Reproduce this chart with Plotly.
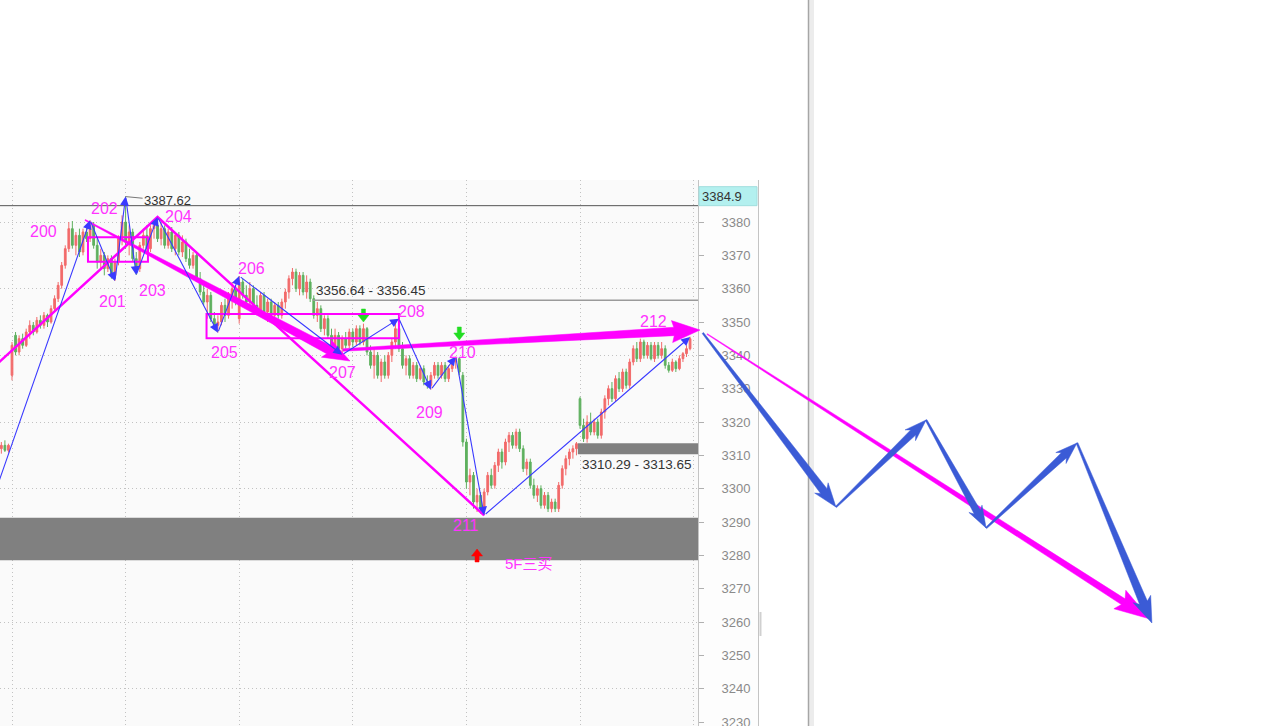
import math
import plotly.graph_objects as go

W, H = 1265, 726

# ---------------- candle data (1 bar per index) ----------------
opens = [
    3312, 3313, 3311.5, 3334, 3346, 3341, 3345, 3343, 3347, 3349,
    3347, 3350.5, 3349, 3352, 3350, 3354, 3357, 3361, 3367, 3372,
    3378, 3373, 3376, 3371, 3377, 3375, 3379, 3373, 3368, 3370,
    3366, 3369, 3364, 3368, 3375, 3380, 3374, 3377, 3369, 3366,
    3373, 3376, 3372, 3378, 3379, 3375, 3378, 3373, 3377, 3372,
    3376, 3371, 3374, 3369, 3367, 3370, 3363, 3359, 3356, 3358,
    3351, 3349, 3350, 3355, 3352, 3358, 3360, 3351, 3362, 3358,
    3356, 3360, 3355, 3353, 3358, 3353, 3356, 3352, 3355, 3352,
    3356, 3359, 3363, 3365, 3360, 3364, 3359, 3362, 3357, 3352,
    3354, 3348, 3351, 3346, 3343, 3346, 3342, 3345, 3343, 3347,
    3344, 3348, 3344, 3348, 3341, 3337, 3340, 3334, 3338, 3334,
    3340, 3344, 3348, 3342, 3337, 3339, 3334, 3337, 3333, 3336,
    3332, 3331, 3334, 3337, 3334, 3337, 3333, 3336, 3338, 3339,
    3334, 3314, 3302, 3304, 3296, 3298, 3294, 3299, 3304, 3301,
    3307, 3311, 3308, 3314, 3316, 3313, 3317, 3312, 3306, 3308,
    3301, 3298, 3300, 3295, 3298, 3294, 3296, 3294, 3301, 3306,
    3309, 3311, 3312, 3327, 3319, 3315, 3320, 3317, 3320, 3316,
    3323, 3327, 3330, 3327, 3333, 3330, 3335, 3331, 3338, 3342,
    3339, 3344, 3340, 3343, 3339, 3343, 3340, 3342, 3337, 3335.5,
    3338, 3336, 3339, 3340.5, 3342,
]
highs = [
    3314, 3314.5, 3313.5, 3344, 3347, 3346, 3346.5, 3348, 3350.5, 3350,
    3351.5, 3352, 3353, 3352.5, 3355, 3358, 3362, 3368, 3373, 3380,
    3380.3, 3377, 3378, 3378, 3379, 3380.5, 3380, 3375, 3372, 3371,
    3370, 3370, 3369, 3376, 3382, 3387.62, 3379, 3378, 3371, 3374,
    3378, 3379, 3379, 3380, 3381.5, 3380, 3379, 3378, 3378.5, 3377,
    3377, 3376, 3375, 3372, 3371, 3371, 3365, 3361, 3360, 3359,
    3353, 3352, 3356, 3357, 3359, 3362, 3361, 3363.8, 3363, 3361,
    3362, 3361, 3358, 3359, 3359, 3357, 3357, 3356, 3356, 3357,
    3360, 3364, 3366.2, 3366, 3365, 3365, 3364, 3363, 3358, 3356,
    3355, 3352, 3352, 3348, 3348, 3347, 3346, 3347, 3348, 3348,
    3349, 3349, 3349.5, 3348.5, 3343, 3342, 3341, 3339, 3340, 3341,
    3345, 3350, 3351, 3344, 3340, 3340, 3338, 3338, 3337, 3337,
    3334, 3335, 3338, 3338, 3338, 3338, 3337, 3339, 3339.6, 3339.5,
    3335, 3315, 3306, 3305, 3300, 3299, 3300, 3305, 3306, 3308,
    3312, 3312, 3315, 3317, 3317, 3318, 3318, 3313, 3309, 3309,
    3303, 3301, 3301, 3299, 3299, 3297, 3297, 3302, 3307, 3310,
    3312, 3313, 3314, 3327.6, 3321, 3322, 3322.8, 3321, 3321, 3324,
    3328, 3331, 3332, 3334, 3335, 3336, 3336, 3339, 3343, 3344,
    3345, 3344.7, 3344, 3344, 3344, 3344, 3344, 3343, 3338, 3339,
    3338.5, 3340, 3341, 3343, 3345.6,
]
lows = [
    3310.5, 3311, 3310.8, 3332.5, 3340, 3340, 3342, 3342.5, 3345, 3346,
    3346.5, 3348, 3348, 3348.5, 3349.5, 3353, 3356, 3360, 3366, 3371,
    3372, 3370, 3369.5, 3370, 3374, 3374, 3372, 3366, 3366, 3364,
    3365, 3363, 3362.3, 3367, 3373, 3372, 3370, 3368, 3364.1, 3365,
    3372, 3371, 3371, 3375, 3374, 3373, 3372, 3372, 3371, 3370,
    3370, 3369.5, 3368, 3366, 3366, 3362, 3358, 3355, 3351, 3350,
    3348, 3346.8, 3349, 3350, 3351, 3354, 3355, 3349.5, 3357, 3355,
    3355, 3354, 3352, 3352, 3352, 3350, 3351, 3350.5, 3351, 3351,
    3354, 3357, 3361, 3359, 3358, 3358, 3357, 3356, 3351, 3350,
    3347, 3346, 3345, 3342, 3342, 3341, 3340.2, 3342, 3342, 3342.5,
    3343, 3343, 3343, 3340, 3336, 3333, 3333, 3332, 3333, 3333,
    3338, 3342, 3341, 3336, 3334, 3333, 3333, 3332, 3332.5, 3331,
    3330, 3329.7, 3333, 3333, 3333, 3332, 3332, 3335, 3336, 3334,
    3312.6, 3300, 3298, 3294, 3293, 3292.5, 3292, 3298, 3300, 3300,
    3305, 3306, 3307, 3311, 3312, 3312, 3311, 3305, 3304, 3300,
    3297, 3296, 3294, 3294, 3293, 3292.9, 3293, 3293, 3300, 3304,
    3307, 3309, 3310, 3318, 3314, 3313.8, 3316, 3316, 3315, 3315,
    3321, 3325, 3326, 3326, 3329, 3329, 3330, 3330, 3337, 3338,
    3338, 3339, 3339, 3338.5, 3338, 3339, 3339, 3336, 3334.8, 3335,
    3335, 3335.5, 3338, 3339.5, 3341.5,
]
closes = [
    3313, 3311.5, 3313, 3343, 3341, 3345, 3343, 3347, 3349, 3347,
    3350.5, 3349, 3352, 3350, 3354, 3357, 3361, 3367, 3372, 3378,
    3373, 3376, 3371, 3377, 3375, 3379, 3373, 3368, 3370, 3366,
    3369, 3364, 3368, 3375, 3380, 3374, 3377, 3369, 3366, 3373,
    3376, 3372, 3378, 3379, 3375, 3378, 3373, 3377, 3372, 3376,
    3371, 3374, 3369, 3367, 3370, 3363, 3359, 3356, 3358, 3351,
    3349, 3350, 3355, 3352, 3358, 3360, 3356, 3362, 3358, 3356,
    3360, 3355, 3353, 3358, 3353, 3356, 3352, 3355, 3352, 3356,
    3359, 3363, 3365, 3360, 3364, 3359, 3362, 3357, 3352, 3354,
    3348, 3351, 3346, 3343, 3346, 3342, 3345, 3343, 3347, 3344,
    3348, 3344, 3348, 3341, 3337, 3340, 3334, 3338, 3334, 3340,
    3344, 3348, 3342, 3337, 3339, 3334, 3337, 3333, 3336, 3332,
    3331, 3334, 3337, 3334, 3337, 3333, 3336, 3338, 3339, 3335,
    3314, 3302, 3304, 3296, 3298, 3294, 3299, 3304, 3301, 3307,
    3311, 3308, 3314, 3316, 3313, 3317, 3312, 3306, 3308, 3301,
    3298, 3300, 3295, 3298, 3294, 3296, 3294, 3301, 3306, 3309,
    3311, 3312, 3313.5, 3319, 3315, 3320, 3317, 3320, 3316, 3323,
    3327, 3330, 3327, 3333, 3330, 3335, 3331, 3338, 3342, 3339,
    3344, 3340, 3343, 3339, 3343, 3340, 3342, 3337, 3335.5, 3338,
    3336, 3339, 3340.5, 3342, 3345,
]
assert len(opens) == len(highs) == len(lows) == len(closes)
bar_idx = list(range(len(opens)))

# price axis tick labels
y_ticks = [3230, 3240, 3250, 3260, 3270, 3280, 3290, 3300, 3310, 3320,
           3330, 3340, 3350, 3360, 3370, 3380]
y_grid = [3240, 3260, 3280, 3300, 3320, 3340, 3360, 3380]

# ---------------- pens (bi) ----------------
pen_names = ["199", "200", "201", "202", "203", "204", "205", "206",
             "207", "208", "209", "210", "211", "212"]
pen_idx = [-5, 25, 32, 35, 38, 44, 61, 67, 96, 112, 121, 128, 136, 194]
pen_price = [3289.0, 3380.5, 3362.3, 3387.62, 3364.1, 3381.5, 3346.8,
             3363.8, 3340.2, 3351.0, 3329.7, 3339.6, 3292.0, 3345.5]

# segment (magenta thin line)
seg_idx = [-40, 44, 136]
seg_price = [3299.5, 3381.5, 3292.0]

# drawn trend arrows (magenta): start idx, start price, end idx, end price
trend_start_idx = [23.6, 96.2, 198.8]
trend_start_price = [3380.6, 3341.6, 3346.4]
trend_end_idx = [98.2, 196.8, 323.6]
trend_end_price = [3338.3, 3347.6, 3260.9]

# projected path (blue arrows)
proj_idx = [197.6, 235.1, 260.5, 277.4, 303.0, 324.1]
proj_price = [3346.7, 3294.5, 3320.6, 3288.2, 3313.7, 3259.7]

# central zones (magenta boxes)
zone_idx0 = [24.4, 57.8]
zone_idx1 = [41.3, 112.0]
zone_low = [3368.1, 3345.1]
zone_high = [3375.4, 3352.4]

# price levels
support_low, support_high = 3278.5, 3291.3
gap_idx0, gap_low, gap_high = 162.4, 3310.29, 3313.65
level_idx0, level_a, level_b = 87.8, 3356.64, 3356.45
last_price = 3384.9
peak_idx, peak_price = 35, 3387.62

# signals (arrow tip positions)
sell_idx = [102, 129]
sell_price = [3350.0, 3344.6]
buy_idx = [134]
buy_price = [3281.9]
buy_text = "5F三买"

# ---------------- layout geometry ----------------
xdom1 = 698 / W
ydom1 = 1 - 180 / H
xr0, xr1 = -0.38, 196.24
yr0, yr1 = 3228.8, 3392.6
kx = W * xdom1 / (xr1 - xr0)
ky = H * ydom1 / (yr1 - yr0)
x2r1 = xr0 + W / kx

RED = "#f26a6a"
GREEN = "#5eb05e"
MAG = "#ff00ff"
MAG_TXT = "#ff33ff"
PEN = "#3a3aff"
PROJ = "#3b5bd6"
BAND = "#808080"
FONT = "Liberation Sans, Arial, Noto Sans CJK SC"

fig = go.Figure()

fig.add_trace(go.Candlestick(
    x=bar_idx, open=opens, high=highs, low=lows, close=closes,
    increasing=dict(line=dict(color=RED, width=1), fillcolor=RED),
    decreasing=dict(line=dict(color=GREEN, width=1), fillcolor=GREEN),
    whiskerwidth=0, hoverinfo="skip", showlegend=False,
    xaxis="x", yaxis="y"))

# invisible trace so the grid axis is drawn
fig.add_trace(go.Scatter(x=[bar_idx[0]], y=[y_grid[0]], mode="markers",
                         marker=dict(opacity=0), hoverinfo="skip",
                         showlegend=False, xaxis="x", yaxis="y3"))

# price bands as filled traces (above grid, below the marks drawn later)
for bx0, blo, bhi in [(xr0 - 5, support_low, support_high), (gap_idx0, gap_low, gap_high)]:
    fig.add_trace(go.Scatter(x=[bx0, xr1 + 5, xr1 + 5, bx0, bx0],
                             y=[blo, blo, bhi, bhi, blo], mode="lines",
                             fill="toself", fillcolor=BAND, line=dict(width=0, color=BAND),
                             hoverinfo="skip", showlegend=False, xaxis="x", yaxis="y"))

# magenta segment line
fig.add_trace(go.Scatter(x=seg_idx, y=seg_price, mode="lines",
                         line=dict(color=MAG, width=2.5),
                         hoverinfo="skip", showlegend=False,
                         xaxis="x", yaxis="y"))


def to_px(x, y):
    return (x - xr0) * kx, (yr1 - y) * ky


def from_px(X, Y):
    return X / kx + xr0, yr1 - Y / ky


def arrow_poly(Sx, Sy, Tx, Ty, w0, w1, head_len, head_hw, barb, color):
    dx, dy = Tx - Sx, Ty - Sy
    L = math.hypot(dx, dy)
    ux, uy = dx / L, dy / L
    nx, ny = -uy, ux
    Bx, By = Tx - ux * head_len, Ty - uy * head_len
    Cx, Cy = Bx - ux * barb, By - uy * barb
    pts = [
        (Sx + nx * w0, Sy + ny * w0),
        (Bx + nx * w1, By + ny * w1),
        (Cx + nx * head_hw, Cy + ny * head_hw),
        (Tx, Ty),
        (Cx - nx * head_hw, Cy - ny * head_hw),
        (Bx - nx * w1, By - ny * w1),
        (Sx - nx * w0, Sy - ny * w0),
    ]
    pts.append(pts[0])
    xs, ys = zip(*[from_px(px, py) for px, py in pts])
    fig.add_trace(go.Scatter(x=list(xs), y=list(ys), mode="lines",
                             fill="toself", fillcolor=color,
                             line=dict(color=color, width=0.5),
                             hoverinfo="skip", showlegend=False,
                             xaxis="x2", yaxis="y"))


def taper_arrow(x0, y0, x1, y1, w0, w1, head_len, head_hw, barb, color):
    Sx, Sy = to_px(x0, y0)
    Tx, Ty = to_px(x1, y1)
    arrow_poly(Sx, Sy, Tx, Ty, w0, w1, head_len, head_hw, barb, color)


def signal_arrow(x, y, direction, color):
    # direction: +1 points down (tail above), -1 points up (tail below)
    Tx, Ty = to_px(x, y)
    arrow_poly(Tx, Ty - direction * 13, Tx, Ty, 2.0, 2.0, 7, 5.5, 0, color)


# magenta trend arrows
trend_style = [(0.5, 4.5, 24, 10, 3), (1.2, 4.2, 26, 11, 2), (0.4, 3.4, 32, 11, 4)]
for k in range(len(trend_start_idx)):
    w0, w1, hl, hw, bb = trend_style[k]
    taper_arrow(trend_start_idx[k], trend_start_price[k],
                trend_end_idx[k], trend_end_price[k], w0, w1, hl, hw, bb, MAG)

# projected blue arrows
proj_style = [(0.8, 4.0, 20, 8.5, 4), (0.8, 3.6, 18, 7.5, 4), (0.8, 3.6, 18, 7.5, 4),
              (0.8, 3.6, 18, 7.5, 4), (0.9, 4.2, 22, 9.5, 4)]
for k in range(len(proj_idx) - 1):
    w0, w1, hl, hw, bb = proj_style[k]
    taper_arrow(proj_idx[k], proj_price[k], proj_idx[k + 1], proj_price[k + 1],
                w0, w1, hl, hw, bb, PROJ)

# invisible anchor trace for x2
fig.add_trace(go.Scatter(x=[xr0], y=[yr0], mode="markers", marker=dict(opacity=0),
                         hoverinfo="skip", showlegend=False, xaxis="x2", yaxis="y"))

shapes = []
# plot background
shapes.append(dict(type="rect", xref="x domain", yref="y domain", x0=0, x1=1, y0=0, y1=1,
                   fillcolor="#fafafa", line=dict(width=0), layer="below"))
# axis panel and borders
shapes.append(dict(type="rect", xref="paper", yref="y domain", x0=xdom1, x1=758 / W,
                   y0=0, y1=1, fillcolor="#fdfdfd", line=dict(width=0), layer="below"))
shapes.append(dict(type="line", xref="paper", yref="y domain", x0=758.5 / W, x1=758.5 / W,
                   y0=0, y1=1, line=dict(color="#c4c4c4", width=1), layer="below"))
shapes.append(dict(type="rect", xref="paper", yref="paper", x0=759.5 / W, x1=761.5 / W,
                   y0=1 - 636 / H, y1=1 - 612 / H, fillcolor="#d0d0d0",
                   line=dict(width=0), layer="below"))
shapes.append(dict(type="rect", xref="paper", yref="paper", x0=809 / W, x1=814 / W,
                   y0=0, y1=1, fillcolor="#ececec", line=dict(width=0), layer="below"))
shapes.append(dict(type="line", xref="paper", yref="paper", x0=808.5 / W, x1=808.5 / W,
                   y0=0, y1=1, line=dict(color="#a6a6a6", width=1.5), layer="below"))
# last price line
shapes.append(dict(type="line", xref="x domain", yref="y", x0=0, x1=1,
                   y0=last_price, y1=last_price, line=dict(color="#555555", width=1)))
# level line
lvl = (level_a + level_b) / 2
shapes.append(dict(type="line", xref="x", yref="y", x0=level_idx0, x1=xr1,
                   y0=lvl, y1=lvl, line=dict(color="#9a9a9a", width=1.5)))
# zones
for k in range(len(zone_idx0)):
    shapes.append(dict(type="rect", xref="x", yref="y", x0=zone_idx0[k], x1=zone_idx1[k],
                       y0=zone_low[k], y1=zone_high[k], line=dict(color=MAG, width=2),
                       fillcolor="rgba(0,0,0,0)", layer="above"))
# last price box on axis
shapes.append(dict(type="rect", xref="paper", yref="y", x0=699 / W, x1=757 / W,
                   y0=last_price, y1=last_price + 19 / ky, fillcolor="#b3f0ef",
                   line=dict(color="#a0dede", width=1), layer="above"))

ann = []
ann.append(dict(x=700 / W, xref="paper", y=last_price, yref="y", yshift=0,
                text="3384.9", showarrow=False, xanchor="left", yanchor="bottom",
                font=dict(family=FONT, size=13, color="#333333")))
ann.append(dict(x=level_idx0, y=level_a, xref="x", yref="y", xshift=1, yshift=0,
                text=f"{level_a:.2f} - {level_b:.2f}", showarrow=False,
                xanchor="left", yanchor="bottom",
                font=dict(family=FONT, size=13.5, color="#333333")))
ann.append(dict(x=gap_idx0, y=gap_low, xref="x", yref="y", xshift=2, yshift=-1,
                text=f"{gap_low:.2f} - {gap_high:.2f}", showarrow=False,
                xanchor="left", yanchor="top",
                font=dict(family=FONT, size=13.5, color="#333333")))
ann.append(dict(x=peak_idx, y=peak_price, xref="x", yref="y",
                text=f"{peak_price:.2f}", showarrow=True, ax=42, ay=4,
                arrowhead=0, arrowwidth=1, arrowcolor="#777777",
                font=dict(family=FONT, size=13, color="#333333")))

# pen arrows
for k in range(len(pen_idx) - 1):
    ann.append(dict(x=pen_idx[k + 1], y=pen_price[k + 1], xref="x", yref="y",
                    ax=pen_idx[k], ay=pen_price[k], axref="x", ayref="y",
                    text="", showarrow=True, arrowhead=2, arrowsize=1.6,
                    arrowwidth=1.1, arrowcolor=PEN, standoff=0))

# pen labels
label_dx = [6, -47, -2, -21, 16, 21, 7, 12, 0, 13, -1, 7, -18, -37]
label_dy = [10, 11, 20, 12, 15, -1, 20, -8, 18, -7, 23, -4, 10, -16]
for k in range(len(pen_names)):
    ann.append(dict(x=pen_idx[k], y=pen_price[k], xref="x", yref="y",
                    xshift=label_dx[k], yshift=-label_dy[k], text=pen_names[k],
                    showarrow=False, xanchor="center", yanchor="middle",
                    font=dict(family=FONT, size=16, color=MAG_TXT)))

# signals
for k in range(len(sell_idx)):
    signal_arrow(sell_idx[k], sell_price[k], +1, "#22dd22")
for k in range(len(buy_idx)):
    signal_arrow(buy_idx[k], buy_price[k], -1, "#ff0000")
    ann.append(dict(x=buy_idx[k], y=buy_price[k], xref="x", yref="y",
                    xshift=52, yshift=-14, text=buy_text, showarrow=False,
                    font=dict(family=FONT, size=15, color=MAG_TXT)))

fig.update_layout(
    width=W, height=H,
    margin=dict(l=0, r=0, t=0, b=0, pad=0, autoexpand=False),
    paper_bgcolor="white", plot_bgcolor="rgba(0,0,0,0)",
    showlegend=False, hovermode=False,
    shapes=shapes, annotations=ann,
    xaxis=dict(domain=[0, xdom1], range=[xr0, xr1], showticklabels=False,
               ticks="", showgrid=True, gridcolor="#c2c2c2", griddash="1px,3px",
               gridwidth=1, tick0=3, dtick=32, zeroline=False, showline=False,
               automargin=False,
               rangeslider=dict(visible=False), fixedrange=True),
    xaxis2=dict(domain=[0, 1], range=[xr0, x2r1], anchor="y", visible=False,
                automargin=False,
                showgrid=False, zeroline=False, fixedrange=True),
    yaxis=dict(domain=[0, ydom1], range=[yr0, yr1], side="right", anchor="x",
               ticks="outside", ticklen=5, tickcolor="#b0b0b0",
               tickmode="array", tickvals=y_ticks, ticktext=[str(v) for v in y_ticks],
               tickfont=dict(family=FONT, size=13, color="#8a8a8a"),
               ticklabelstandoff=15, ticklabeloverflow="allow", automargin=False,
               showgrid=False, showline=True,
               linecolor="#c4c4c4", linewidth=1, zeroline=False, fixedrange=True),
    yaxis3=dict(overlaying="y", anchor="x", range=[yr0, yr1], side="right",
                tickmode="array", tickvals=y_grid, showticklabels=False, ticks="",
                automargin=False,
                showgrid=True, gridcolor="#c2c2c2", griddash="1px,3px", gridwidth=1,
                zeroline=False, showline=False, fixedrange=True),
)

fig.write_html("out.html", config={"displayModeBar": False, "staticPlot": True},
               post_script="document.body.style.margin='0';document.body.style.overflow='hidden';")
